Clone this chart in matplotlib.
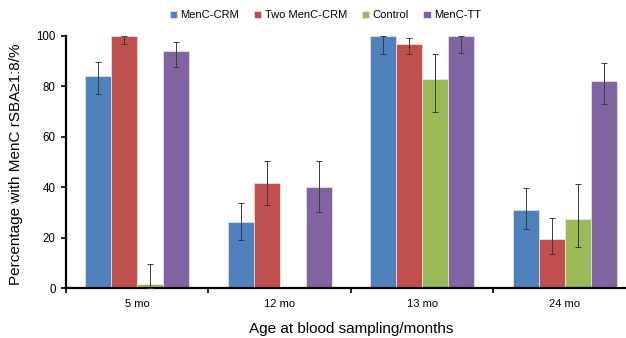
import numpy as np
import matplotlib
matplotlib.use("Agg")
import matplotlib.pyplot as plt

plt.rcParams["font.family"] = ["Liberation Sans", "DejaVu Sans"]

groups = ["5 mo", "12 mo", "13 mo", "24 mo"]
series = ["MenC-CRM", "Two MenC-CRM", "Control", "MenC-TT"]
colors = ["#4F81BD", "#C0504D", "#9BBB59", "#8064A2"]

# Prozent je Gruppe, nan = kein Balken
values = {
    "MenC-CRM": [84, 26, 100, 31],
    "Two MenC-CRM": [100, 41.5, 97, 19.5],
    "Control": [1.5, np.nan, 83, 27.5],
    "MenC-TT": [94, 40, 100, 82],
}
# untere / obere Grenze der Fehlerbalken
err_low = {
    "MenC-CRM": [77, 19, 93, 23.3],
    "Two MenC-CRM": [97, 33, 93, 13.4],
    "Control": [0, np.nan, 69.7, 16.3],
    "MenC-TT": [87.5, 30, 93.3, 73],
}
err_high = {
    "MenC-CRM": [89.7, 33.9, 100, 39.6],
    "Two MenC-CRM": [100, 50.5, 99.3, 27.7],
    "Control": [9.4, np.nan, 92.8, 41.2],
    "MenC-TT": [97.7, 50.5, 100, 89.4],
}

fig = plt.figure(figsize=(6.26, 3.38), dpi=100)
ax = fig.add_axes([0.1054, 0.1479, 0.9105, 0.7456])

x = np.arange(len(groups))
w = 0.182
for i, (name, col) in enumerate(zip(series, colors)):
    pos = x + (i - 1.5) * w
    vals = np.array(values[name], dtype=float)
    lo = vals - np.array(err_low[name], dtype=float)
    hi = np.array(err_high[name], dtype=float) - vals
    ax.bar(pos, vals, width=w, color=col, edgecolor="#f0e8e8", linewidth=0.5,
           label=name, zorder=2)
    ax.errorbar(pos, vals, yerr=[lo, hi], fmt="none", ecolor="#3a3a3a",
                elinewidth=0.7, capsize=2.2, capthick=0.7, zorder=3)

ax.set_xlim(-0.5, 3.5)
ax.set_ylim(0, 100)
ax.set_yticks([0, 20, 40, 60, 80, 100])
ax.set_xticks(x)
ax.set_xticklabels(groups)
ax.set_xticks([-0.5, 0.5, 1.5, 2.5], minor=True)
ax.tick_params(axis="x", which="major", length=0, pad=8, labelsize=8)
ax.tick_params(axis="x", which="minor", length=3.5, width=1.2, direction="out")
ax.tick_params(axis="y", length=3.5, width=1.2, direction="out", pad=4, labelsize=8.3)

for s in ["top", "right"]:
    ax.spines[s].set_visible(False)
ax.spines["left"].set_linewidth(1.6)
ax.spines["bottom"].set_linewidth(1.6)

ax.set_ylabel("Percentage with MenC rSBA≥1:8/%", fontsize=11)
ax.yaxis.set_label_coords(-0.076, 0.49)
ax.set_xlabel("Age at blood sampling/months", fontsize=11)
ax.xaxis.set_label_coords(0.5, -0.133)

fig.legend(loc="center", bbox_to_anchor=(0.52, 0.955), ncol=4, frameon=False,
           fontsize=8, handlelength=0.65, handleheight=0.65, handletextpad=0.35,
           columnspacing=1.3)

fig.savefig("out.png", dpi=100)
